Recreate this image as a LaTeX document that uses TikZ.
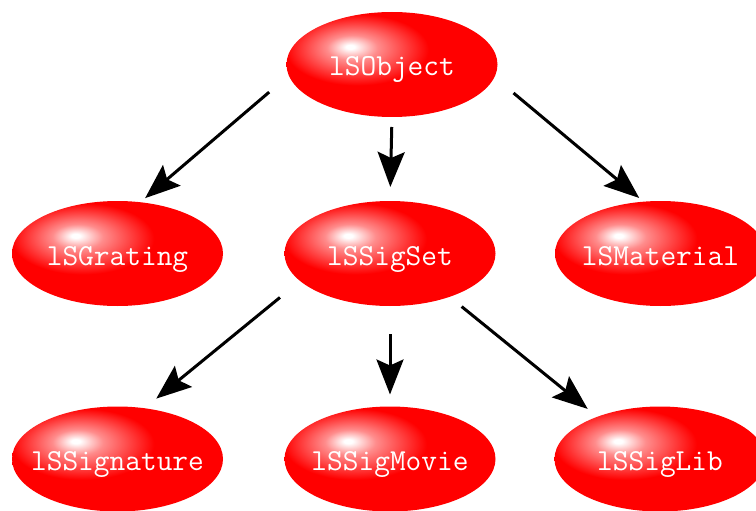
\documentclass[tikz,border=0pt]{standalone}
\usepackage{fontspec}
\usetikzlibrary{positioning,arrows.meta,shapes.geometric}
\pgfdeclareradialshading{redglow}{\pgfpoint{-10bp}{8.5bp}}{color(0bp)=(white); color(1bp)=(white); color(6bp)=(red!45!white); color(17bp)=(red); color(100bp)=(red)}
\tikzset{
  cls/.style={ellipse,shade,shading=redglow,minimum width=211pt,minimum height=105pt,inner xsep=-25pt,inner ysep=0pt,outer sep=0pt,
    text=white,text height=23pt,text depth=0pt,font=\fontsize{30.5}{31}\selectfont\ttfamily},
  inh/.style={line width=3pt,-{Stealth[length=35pt,width=27pt,inset=6pt]}},
}

\begin{document}
\begin{tikzpicture}[x=1pt,y=-1pt]
  \clip (0,0) rectangle (756,511);
  % classes
  \node[cls] (obj) at (392,64.5) {lSObject};
  \node[cls] (grating) at (117.5,253.5) {lSGrating};
  \node[cls] (sigset) at (390,253.5) {lSSigSet};
  \node[cls] (material) at (660.5,253.5) {lSMaterial};
  \node[cls] (signature) at (117.5,459) {lSSignature};
  \node[cls] (sigmovie) at (390,459) {lSSigMovie};
  \node[cls] (siglib) at (660,459) {lSSigLib};
  % inheritance
  \draw[inh,shorten <=25.8pt,shorten >=6.3pt] (obj.186.6) -- (grating.66.6);
  \draw[inh,shorten <=10pt,shorten >=14pt] (obj.south) -- (sigset.north);
  \draw[inh,shorten <=24.9pt,shorten >=5.8pt] (obj.353.1) -- (material.108.9);
  \draw[inh,shorten <=26pt,shorten >=15.2pt] (sigset.197.4) -- (signature.62.1);
  \draw[inh,shorten <=28pt,shorten >=12pt] (sigset.south) -- (sigmovie.north);
  \draw[inh,shorten <=15.5pt,shorten >=12.4pt] (sigset.324.4) -- (siglib.146.6);
\end{tikzpicture}
\end{document}
